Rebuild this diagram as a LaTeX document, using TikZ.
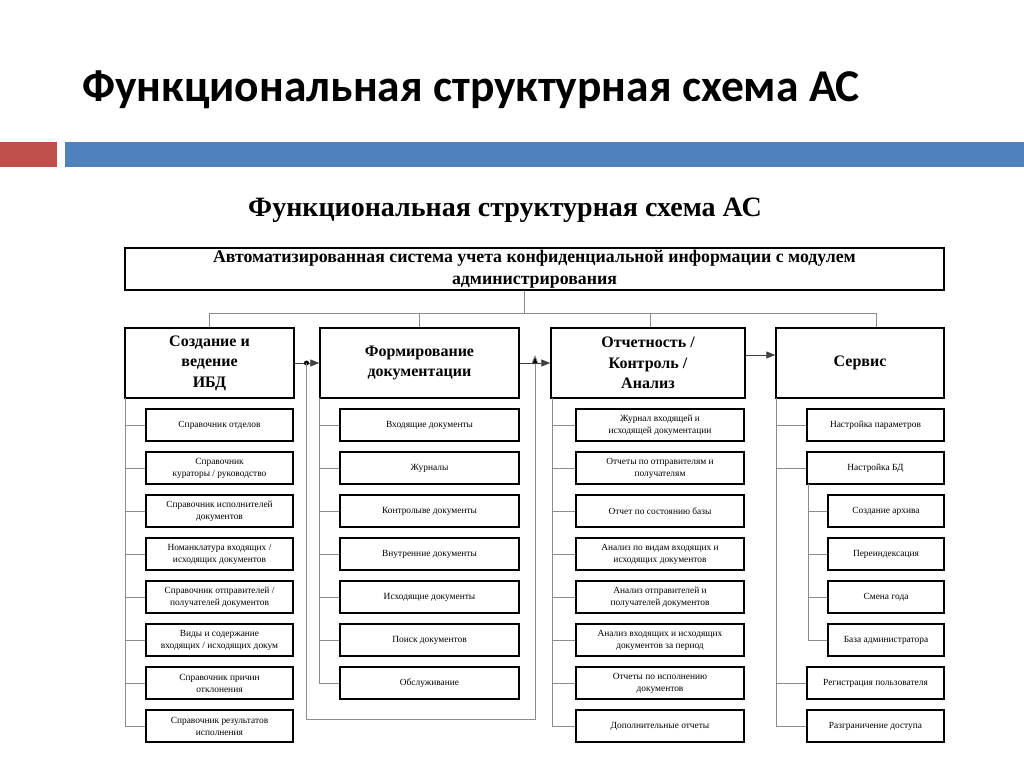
\documentclass[tikz,border=0pt]{standalone}
\usepackage{fontspec}
\setmainfont{Liberation Serif}
\newfontfamily\titlefont{Carlito}
\usetikzlibrary{arrows.meta}
\definecolor{barred}{HTML}{C0504D}
\definecolor{barblue}{HTML}{4F81BD}
\definecolor{linkgray}{HTML}{8C8C8C}
\tikzset{
  topbox/.style={draw=black, line width=1.3pt, minimum width=819pt, minimum height=42pt, inner sep=0pt, align=center, font=\fontsize{17.8}{22}\selectfont\bfseries},
  colbox/.style={draw=black, line width=1.5pt, minimum height=70pt, inner sep=0pt, align=center, font=\fontsize{16}{20.5}\selectfont\bfseries},
  item/.style={draw=black, line width=1.5pt, minimum height=32pt, inner sep=0pt, align=center, font=\fontsize{9.4}{12}\selectfont},
  link/.style={draw=linkgray, line width=0.8pt},
  flow/.style={draw=black!75, line width=0.8pt, -{Triangle[length=9pt,width=7pt]}},
  flowup/.style={draw=linkgray, line width=0.8pt, -{Triangle[length=9pt,width=7pt,fill=black]}},
}
\begin{document}
\begin{tikzpicture}[x=1pt,y=-1pt]
\useasboundingbox[fill=white] (0,0) rectangle (1024,767);
% header
\node[anchor=base west, inner sep=0pt, font=\titlefont\fontsize{45.5}{52}\selectfont\bfseries] (title) at (82,102) {Функциональная структурная схема АС};
\fill[barred] (0,142) rectangle (57,167);
\fill[barblue] (65,142) rectangle (1024,167);
\node[anchor=base, inner sep=0pt, font=\fontsize{28}{32}\selectfont\bfseries] (subtitle) at (505,217) {Функциональная структурная схема АС};
% top box
\node[topbox] (top) at (534.5,269) {Автоматизированная система учета конфиденциальной информации с модулем\\администрирования};
% column boxes
\node[colbox, minimum width=169pt] (b1) at (209.5,363) {Создание и\\ведение\\ИБД};
\node[colbox, minimum width=199pt] (b2) at (419.5,363) {Формирование\\документации};
\node[colbox, minimum width=194pt] (b3) at (648,363) {Отчетность /\\Контроль /\\Анализ};
\node[colbox, minimum width=168pt] (b4) at (860,363) {Сервис};
% bus
\coordinate (bus) at (524,313);
\coordinate (busL) at (209,313);
\coordinate (busR) at (876,313);
\draw[link] (top.south -| bus) -- (bus);
\draw[link] (busL) -- (busR);
\draw[link] (busL) -- (busL |- b1.north);
\draw[link] (419,313) coordinate (bus2) -- (bus2 |- b2.north);
\draw[link] (650,313) coordinate (bus3) -- (bus3 |- b3.north);
\draw[link] (busR) -- (busR |- b4.north);
% column 1 items
\foreach \n/\t [count=\k from 0] in {a/{Справочник отделов},b/{Справочник\\кураторы / руководство},c/{Справочник исполнителей\\документов},d/{Номанклатура входящих /\\исходящих документов},e/{Справочник отправителей /\\получателей документов},f/{Виды и содержание\\входящих / исходящих докум},g/{Справочник причин\\отклонения},h/{Справочник результатов\\исполнения}}{
  \node[item, minimum width=147pt] (c1\n) at (219.5,425+43*\k) {\t};
}
% column 2 items
\foreach \n/\t [count=\k from 0] in {a/{Входящие документы},b/{Журналы},c/{Контролыве документы},d/{Внутренние документы},e/{Исходящие документы},f/{Поиск документов},g/{Обслуживание}}{
  \node[item, minimum width=179pt] (c2\n) at (429.5,425+43*\k) {\t};
}
% column 3 items
\foreach \n/\t [count=\k from 0] in {a/{Журнал входящей и\\исходящей документации},b/{Отчеты по отправителям и\\получателям},c/{Отчет по состоянию базы},d/{Анализ по видам входящих  и\\исходящих документов},e/{Анализ отправителей  и\\получателей документов},f/{Анализ входящих и  исходящих\\документов за период},g/{Отчеты по исполнению\\документов},h/{Дополнительные отчеты}}{
  \node[item, minimum width=168pt] (c3\n) at (660,425+43*\k) {\t};
}
% column 4 items
\node[item, minimum width=137pt] (c4a) at (875.5,425) {Настройка параметров};
\node[item, minimum width=137pt] (c4b) at (875.5,468) {Настройка БД};
\foreach \n/\t [count=\k from 2] in {c/{Создание архива},d/{Переиндексация},e/{Смена года},f/{База администратора}}{
  \node[item, minimum width=116pt] (c4\n) at (886,425+43*\k) {\t};
}
\node[item, minimum width=137pt] (c4g) at (875.5,683) {Регистрация пользователя};
\node[item, minimum width=137pt] (c4h) at (875.5,726) {Разграничение доступа};
% trunks
\coordinate (t1) at (125.5,398);
\coordinate (t2) at (319.5,398);
\coordinate (t3) at (552,398);
\coordinate (t4) at (776,398);
\draw[link] (t1) -- (t1 |- c1h.west) -- (c1h.west);
\foreach \n in {a,...,g} \draw[link] (t1 |- c1\n.west) -- (c1\n.west);
\draw[link] (t2) -- (t2 |- c2g.west) -- (c2g.west);
\foreach \n in {a,...,f} \draw[link] (t2 |- c2\n.west) -- (c2\n.west);
\draw[link] (t3) -- (t3 |- c3h.west) -- (c3h.west);
\foreach \n in {a,...,g} \draw[link] (t3 |- c3\n.west) -- (c3\n.west);
\draw[link] (t4) -- (t4 |- c4h.west) -- (c4h.west);
\foreach \n in {a,b,g} \draw[link] (t4 |- c4\n.west) -- (c4\n.west);
\coordinate (t5) at (808,484);
\draw[link] (t5) -- (t5 |- c4f.west) -- (c4f.west);
\foreach \n in {c,d,e} \draw[link] (t5 |- c4\n.west) -- (c4\n.west);
% flows between columns
\coordinate (dot) at (306.5,363);
\coordinate (loopA) at (306.5,719);
\coordinate (loopB) at (535,719);
\coordinate (loopC) at (535,355);
\draw[flow] (b1.east) -- (b2.west);
\fill[black] (dot) circle (2.5pt);
\draw[flowup] (dot) -- (loopA) -- (loopB) -- (loopC);
\draw[flow] (b2.east) -- (b3.west);
\draw[flow] (b3.east |- 0,355) -- (b4.west |- 0,355);
\end{tikzpicture}
\end{document}
